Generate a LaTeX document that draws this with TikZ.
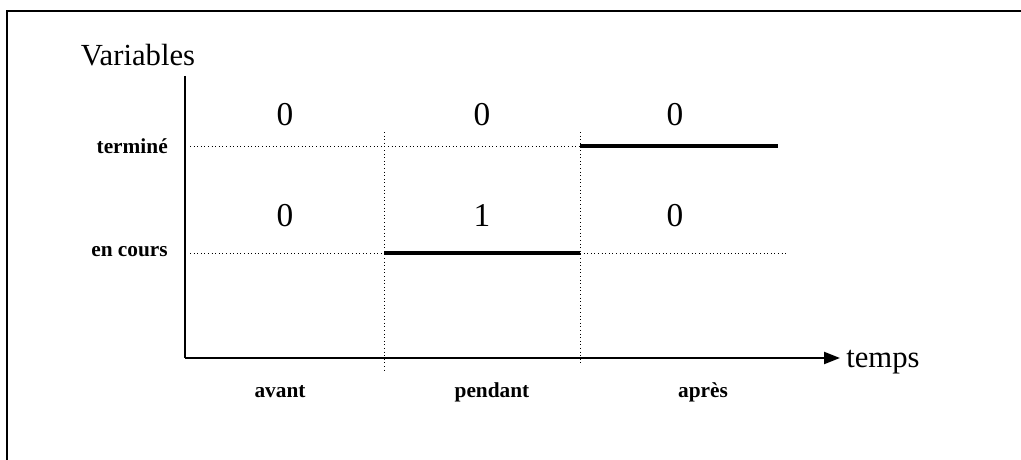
\documentclass[tikz,border=0pt]{standalone}
\usepackage{fontspec}
\setmainfont{Liberation Serif}
\usetikzlibrary{arrows.meta}
\begin{document}
\begin{tikzpicture}[x=0.75pt,y=-0.75pt,
  big/.style={inner sep=0pt,font=\fontsize{23}{26}\selectfont},
  digit/.style={inner sep=0pt,font=\fontsize{25}{28}\selectfont},
  small/.style={inner sep=0pt,font=\fontsize{16}{19}\selectfont\bfseries},
  axis/.style={line width=1.7pt},
  grid/.style={line width=0.7pt,dotted},
  level/.style={line width=2.4pt}]
\useasboundingbox (0,0) rectangle (1021,460);
% frame
\coordinate (ftl) at (7,11);
\coordinate (ftr) at (1021,11);
\coordinate (fbl) at (7,460);
\draw[line width=1.6pt] (fbl) -- (ftl) -- (ftr);
% axes
\coordinate (o) at (185,358);
\coordinate (ytop) at (185,76);
\coordinate (xend) at (840,358);
\draw[axis] (ytop) -- (o);
\draw[axis,-{Triangle[length=12pt,width=9pt]}] (o) -- (xend);
\node[big,anchor=base] (var) at (138,65) {Variables};
\node[big,anchor=base west] (temps) at (846,367) {temps};
% level labels
\node[small,anchor=base east] (term) at (168,153) {terminé};
\node[small,anchor=base east] (enc) at (168,256) {en cours};
% vertical dotted separators
\coordinate (v1t) at (384,132); \coordinate (v1b) at (384,372);
\coordinate (v2t) at (580,132); \coordinate (v2b) at (580,364);
\draw[grid] (v1t) -- (v1b);
\draw[grid] (v2t) -- (v2b);
% terminé line
\coordinate (t0) at (190,146); \coordinate (t1) at (580,146); \coordinate (t2) at (778,146);
\draw[grid] (t0) -- (t1);
\draw[level] (t1) -- (t2);
% en cours line
\coordinate (e0) at (190,253); \coordinate (e1) at (384,253); \coordinate (e2) at (580,253); \coordinate (e3) at (787,253);
\draw[grid] (e0) -- (e1);
\draw[level] (e1) -- (e2);
\draw[grid] (e2) -- (e3);
% values
\node[digit,anchor=base] (a1) at (285,126) {0};
\node[digit,anchor=base] (b1) at (482,126) {0};
\node[digit,anchor=base] (c1) at (675,126) {0};
\node[digit,anchor=base] (a2) at (285,226) {0};
\node[digit,anchor=base] (b2) at (482,226) {1};
\node[digit,anchor=base] (c2) at (675,226) {0};
% period labels
\node[small,anchor=base] (av) at (280,397) {avant};
\node[small,anchor=base] (pe) at (492,397) {pendant};
\node[small,anchor=base] (ap) at (703,397) {après};
\end{tikzpicture}
\end{document}
